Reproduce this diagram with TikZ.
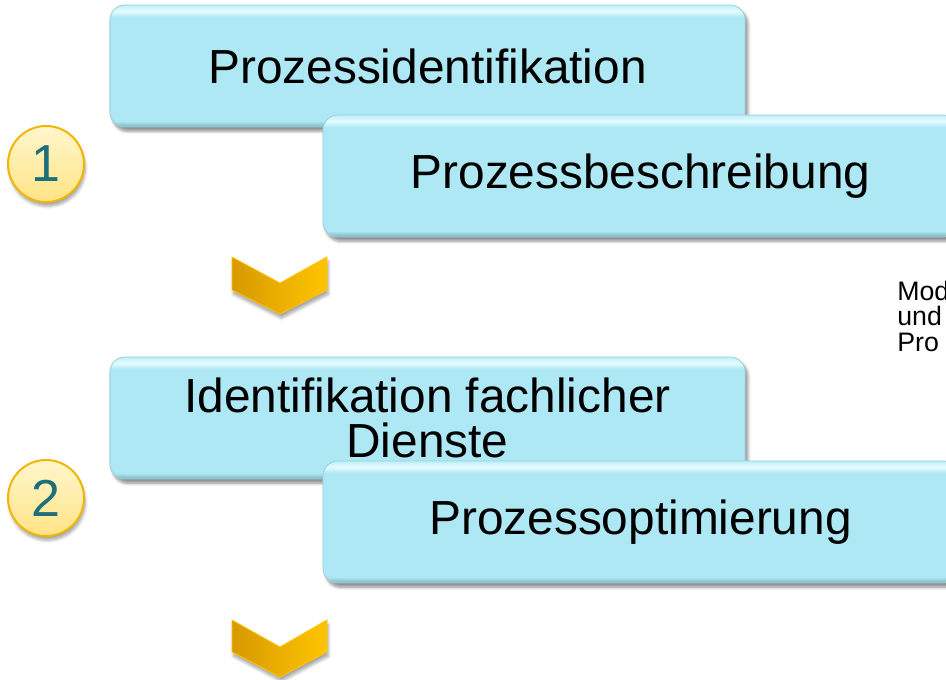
\documentclass[tikz,border=0pt]{standalone}
\usepackage{fontspec}
\setmainfont{Liberation Sans}
\usetikzlibrary{shadows.blur}
\definecolor{boxmain}{HTML}{AEE8F4}
\definecolor{boxhi}{HTML}{E4FBFF}
\definecolor{boxtop}{HTML}{BDEFF8}
\definecolor{boxdark}{HTML}{7FB3BE}
\definecolor{boxline}{HTML}{9CCFD9}
\definecolor{numfill}{HTML}{FFF6CC}
\definecolor{numfilldark}{HTML}{FFE385}
\definecolor{numline}{HTML}{F3B400}
\definecolor{numtext}{HTML}{1F6E7B}
\definecolor{chevdark}{HTML}{D69A00}
\definecolor{chevlight}{HTML}{FFC400}
\pgfdeclareverticalshading{boxgloss}{100bp}{color(0bp)=(boxdark); color(25bp)=(boxdark); color(27.5bp)=(boxmain); color(70bp)=(boxmain); color(72.5bp)=(boxhi); color(75bp)=(boxtop); color(100bp)=(boxtop)}
\tikzset{
  stepbox/.style={rectangle, rounded corners=0.375cm, shade, shading=boxgloss,
    draw=boxline, line width=0.6pt, minimum width=15.875cm, minimum height=3.05cm,
    inner sep=0pt, align=center, font=\fontsize{34}{32}\selectfont,
    blur shadow={shadow xshift=2pt, shadow yshift=-3pt, shadow blur steps=6, shadow opacity=45}},
  numcircle/.style={circle, minimum size=1.9cm, inner sep=0pt,
    top color=numfill, bottom color=numfilldark, draw=numline, line width=1.4pt,
    text=numtext, font=\fontsize{37}{37}\selectfont,
    blur shadow={shadow xshift=1pt, shadow yshift=-3pt, shadow blur steps=5, shadow opacity=35}},
  chevronshape/.style={left color=chevdark, right color=chevlight, draw=chevlight, line width=0.6pt,
    blur shadow={shadow xshift=1pt, shadow yshift=-3pt, shadow blur steps=5, shadow opacity=35}},
  notetext/.style={anchor=north west, inner sep=0pt, align=left, font=\fontsize{19}{18}\selectfont}
}
\begin{document}
\begin{tikzpicture}[x=0.025cm, y=-0.025cm]
  \useasboundingbox (0,0) rectangle (946,679);
  \node[stepbox] (ident) at (427.5,66) {Prozessidentifikation};
  \node[stepbox] (beschr) at (640.5,176) {Prozessbeschreibung};
  \node[stepbox] (dienste) at (427.5,418) {Identifikation fachlicher\\Dienste};
  \node[stepbox] (optim) at (640.5,522) {Prozessoptimierung};
  \node[numcircle] (eins) at (46,164) {1};
  \node[numcircle] (zwei) at (46,498) {2};
  \draw[chevronshape] (232,257) -- (280,283) -- (327,257) -- (327,290) -- (280,314) -- (232,290) -- cycle;
  \draw[chevronshape] (232,620) -- (280,647) -- (327,620) -- (327,652) -- (280,677) -- (232,652) -- cycle;
  \node[notetext] (notiz) at (897,281) {Mod\\und\\Pro};
\end{tikzpicture}
\end{document}
